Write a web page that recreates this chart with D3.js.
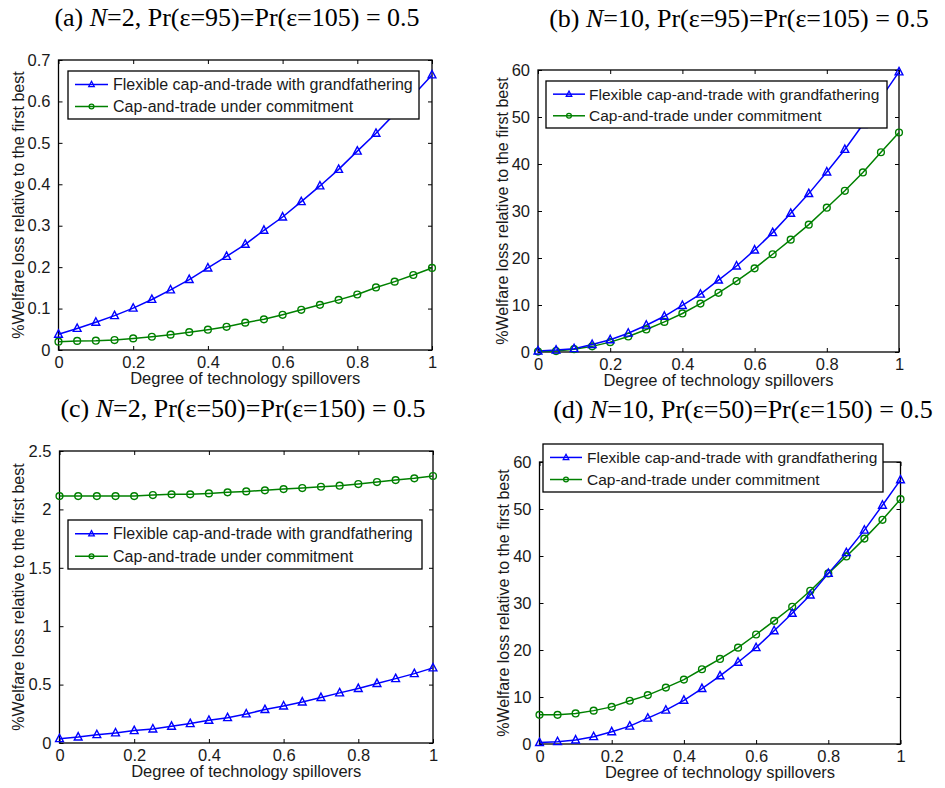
<!DOCTYPE html>
<html>
<head>
<meta charset="utf-8">
<script src="https://cdn.jsdelivr.net/npm/d3@7"></script>
<style>
  body { margin: 0; background: #fff; }
  svg { display: block; }
</style>
</head>
<body>
<svg id="chart" width="945" height="788"></svg>
<script>
// ---------------- DATA ----------------
const spillover = [0, 0.05, 0.1, 0.15, 0.2, 0.25, 0.3, 0.35, 0.4, 0.45, 0.5,
                   0.55, 0.6, 0.65, 0.7, 0.75, 0.8, 0.85, 0.9, 0.95, 1];
const xTicks = [0, 0.2, 0.4, 0.6, 0.8, 1];

const seriesNames = ["Flexible cap-and-trade with grandfathering", "Cap-and-trade under commitment"];

// panel (a)
const aFlexible = [0.038, 0.052, 0.067, 0.083, 0.101, 0.122, 0.145, 0.170, 0.198, 0.226, 0.255,
                   0.289, 0.321, 0.358, 0.396, 0.436, 0.480, 0.523, 0.570, 0.615, 0.664];
const aCommit   = [0.020, 0.022, 0.0225, 0.024, 0.028, 0.032, 0.037, 0.043, 0.049, 0.056, 0.066,
                   0.074, 0.085, 0.097, 0.109, 0.121, 0.134, 0.151, 0.165, 0.181, 0.198];
const aYTicks = [0, 0.1, 0.2, 0.3, 0.4, 0.5, 0.6, 0.7];

// panel (b)
const bFlexible = [0.2, 0.4, 0.7, 1.6, 2.6, 4.0, 5.7, 7.6, 9.9, 12.3, 15.3,
                   18.3, 21.7, 25.4, 29.5, 33.7, 38.3, 43.1, 48.4, 54.0, 59.6];
const bCommit   = [0.1, 0.2, 0.6, 1.2, 2.1, 3.3, 4.8, 6.4, 8.2, 10.3, 12.6,
                   15.1, 17.8, 20.8, 23.9, 27.1, 30.7, 34.3, 38.2, 42.5, 46.7];
const bYTicks = [0, 10, 20, 30, 40, 50, 60];

// panel (c)
const cFlexible = [0.037, 0.051, 0.071, 0.086, 0.106, 0.120, 0.143, 0.166, 0.194, 0.217, 0.249,
                   0.286, 0.317, 0.351, 0.389, 0.429, 0.466, 0.509, 0.551, 0.594, 0.643];
const cCommit   = [2.114, 2.114, 2.114, 2.114, 2.114, 2.123, 2.129, 2.129, 2.137, 2.146, 2.154,
                   2.163, 2.174, 2.183, 2.194, 2.203, 2.217, 2.234, 2.251, 2.266, 2.286];
const cYTicks = [0, 0.5, 1, 1.5, 2, 2.5];

// panel (d)
const dFlexible = [0.3, 0.5, 0.85, 1.56, 2.6, 3.8, 5.5, 7.2, 9.3, 11.8, 14.5,
                   17.4, 20.5, 24.1, 27.8, 31.7, 36.3, 40.7, 45.5, 50.8, 56.2];
const dCommit   = [6.2, 6.2, 6.5, 7.1, 7.9, 9.2, 10.4, 12.0, 13.7, 15.9, 18.1,
                   20.5, 23.3, 26.2, 29.2, 32.6, 36.3, 39.9, 43.7, 47.7, 52.1];
const dYTicks = [0, 10, 20, 30, 40, 50, 60];

const titles = [
  {pre: "(a) ", n: "=2, Pr(ε=95)=Pr(ε=105) = 0.5"},
  {pre: "(b) ", n: "=10, Pr(ε=95)=Pr(ε=105) = 0.5"},
  {pre: "(c) ", n: "=2, Pr(ε=50)=Pr(ε=150) = 0.5"},
  {pre: "(d) ", n: "=10, Pr(ε=50)=Pr(ε=150) = 0.5"}
];
const xLabel = "Degree of technology spillovers";
const yLabel = "%Welfare loss relative to the first best";

// ---------------- LAYOUT ----------------
const panels = [
  {flex: aFlexible, com: aCommit, yTicks: aYTicks, yMax: 0.7, title: titles[0],
   box: {l: 58.5, r: 432, t: 60, b: 350}, titleX: 237, titleY: 26, yLabX: 18,
   legend: {x: 68, y: 71, w: 351, h: 48, fs: 16, tx: 45, le: 40}},
  {flex: bFlexible, com: bCommit, yTicks: bYTicks, yMax: 60, title: titles[1],
   box: {l: 538, r: 899, t: 70, b: 352}, titleX: 739, titleY: 27, yLabX: 502,
   legend: {x: 546, y: 81, w: 341, h: 47, fs: 15.5, tx: 43, le: 39}},
  {flex: cFlexible, com: cCommit, yTicks: cYTicks, yMax: 2.5, title: titles[2],
   box: {l: 59.5, r: 433, t: 451, b: 743}, titleX: 243, titleY: 417, yLabX: 18,
   legend: {x: 68, y: 520, w: 354, h: 49, fs: 16, tx: 45, le: 40}},
  {flex: dFlexible, com: dCommit, yTicks: dYTicks, yMax: 60, title: titles[3],
   box: {l: 539.5, r: 900.5, t: 462, b: 744}, titleX: 743, titleY: 418, yLabX: 503,
   legend: {x: 543, y: 444, w: 340, h: 48, fs: 15.5, tx: 44, le: 39}}
];

const BLUE = "#0000ff", GREEN = "#008000";
const svg = d3.select("#chart");

function triPath(cx, cy, s) {
  const h = s * 0.95;
  return `M${cx},${cy - h * 0.6}L${cx + s / 2},${cy + h * 0.4}L${cx - s / 2},${cy + h * 0.4}Z`;
}

panels.forEach(p => {
  const g = svg.append("g");
  const x = d3.scaleLinear().domain([0, 1]).range([p.box.l, p.box.r]);
  const y = d3.scaleLinear().domain([0, p.yMax]).range([p.box.b, p.box.t]);
  const W = p.box.r - p.box.l, H = p.box.b - p.box.t;

  // title
  const t = g.append("text").attr("x", p.titleX).attr("y", p.titleY)
    .attr("text-anchor", "middle")
    .style("font-family", "'Liberation Serif','Times New Roman',serif")
    .style("font-size", "26px").attr("fill", "#000");
  t.append("tspan").text(p.title.pre);
  t.append("tspan").style("font-style", "italic").text("N");
  t.append("tspan").text(p.title.n);

  // axes with inward ticks on all four sides
  const fontAx = "'Liberation Sans', Arial, sans-serif";
  const xb = d3.axisBottom(x).tickValues(xTicks).tickSize(-4).tickPadding(6).tickFormat(d3.format("~g"));
  const xt = d3.axisTop(x).tickValues(xTicks).tickSize(-4).tickFormat("");
  const yl = d3.axisLeft(y).tickValues(p.yTicks).tickSize(-4).tickPadding(8).tickFormat(d3.format("~g"));
  const yr = d3.axisRight(y).tickValues(p.yTicks).tickSize(-4).tickFormat("");

  const axes = [
    g.append("g").attr("transform", `translate(0,${p.box.b})`).call(xb),
    g.append("g").attr("transform", `translate(0,${p.box.t})`).call(xt),
    g.append("g").attr("transform", `translate(${p.box.l},0)`).call(yl),
    g.append("g").attr("transform", `translate(${p.box.r},0)`).call(yr)
  ];
  axes.forEach(a => {
    a.select(".domain").remove();
    a.selectAll("line").attr("stroke", "#000").attr("stroke-width", 1);
    a.selectAll("text").style("font-family", fontAx).style("font-size", "16.5px").attr("fill", "#1a1a1a");
  });

  g.append("rect").attr("x", p.box.l).attr("y", p.box.t).attr("width", W).attr("height", H)
    .attr("fill", "none").attr("stroke", "#000").attr("stroke-width", 1.3);

  // axis labels
  g.append("text").attr("x", (p.box.l + p.box.r) / 2).attr("y", p.box.b + 34)
    .attr("text-anchor", "middle").style("font-family", fontAx).style("font-size", "16.5px")
    .attr("fill", "#1a1a1a").text(xLabel);
  g.append("text").attr("transform", `translate(${p.yLabX},${(p.box.t + p.box.b) / 2}) rotate(-90)`)
    .attr("text-anchor", "middle").attr("dy", "0.35em").style("font-family", fontAx).style("font-size", "16px")
    .attr("fill", "#1a1a1a").text(yLabel);

  // series
  const line = d3.line().x((d, i) => x(spillover[i])).y(d => y(d));
  g.append("path").datum(p.com).attr("d", line).attr("fill", "none").attr("stroke", GREEN).attr("stroke-width", 1.5);
  g.append("path").datum(p.flex).attr("d", line).attr("fill", "none").attr("stroke", BLUE).attr("stroke-width", 1.5);

  g.selectAll(".circ").data(p.com).enter().append("circle")
    .attr("cx", (d, i) => x(spillover[i])).attr("cy", d => y(d)).attr("r", 3.4)
    .attr("fill", "none").attr("stroke", GREEN).attr("stroke-width", 1.4);
  g.selectAll(".tri").data(p.flex).enter().append("path")
    .attr("d", (d, i) => triPath(x(spillover[i]), y(d), 7.8))
    .attr("fill", "none").attr("stroke", BLUE).attr("stroke-width", 1.4);

  // legend
  const L = p.legend;
  const lg = g.append("g");
  lg.append("rect").attr("x", L.x).attr("y", L.y).attr("width", L.w).attr("height", L.h)
    .attr("fill", "#fff").attr("stroke", "#000").attr("stroke-width", 1.3);
  const rows = [L.y + L.h * 0.28, L.y + L.h * 0.74];
  const mid = L.x + (7 + L.le) / 2;
  [[BLUE, "tri"], [GREEN, "circ"]].forEach((s, k) => {
    const ry = rows[k];
    lg.append("line").attr("x1", L.x + 7).attr("x2", L.x + L.le).attr("y1", ry).attr("y2", ry)
      .attr("stroke", s[0]).attr("stroke-width", 1.5);
    if (s[1] === "tri") {
      lg.append("path").attr("d", triPath(mid, ry, 5.5)).attr("fill", "none")
        .attr("stroke", s[0]).attr("stroke-width", 1.3);
    } else {
      lg.append("circle").attr("cx", mid).attr("cy", ry).attr("r", 2.4).attr("fill", "none")
        .attr("stroke", s[0]).attr("stroke-width", 1.3);
    }
    lg.append("text").attr("x", L.x + L.tx).attr("y", ry).attr("dy", "0.36em")
      .style("font-family", fontAx).style("font-size", L.fs + "px").attr("fill", "#1a1a1a")
      .text(seriesNames[k]);
  });
});
</script>
</body>
</html>
